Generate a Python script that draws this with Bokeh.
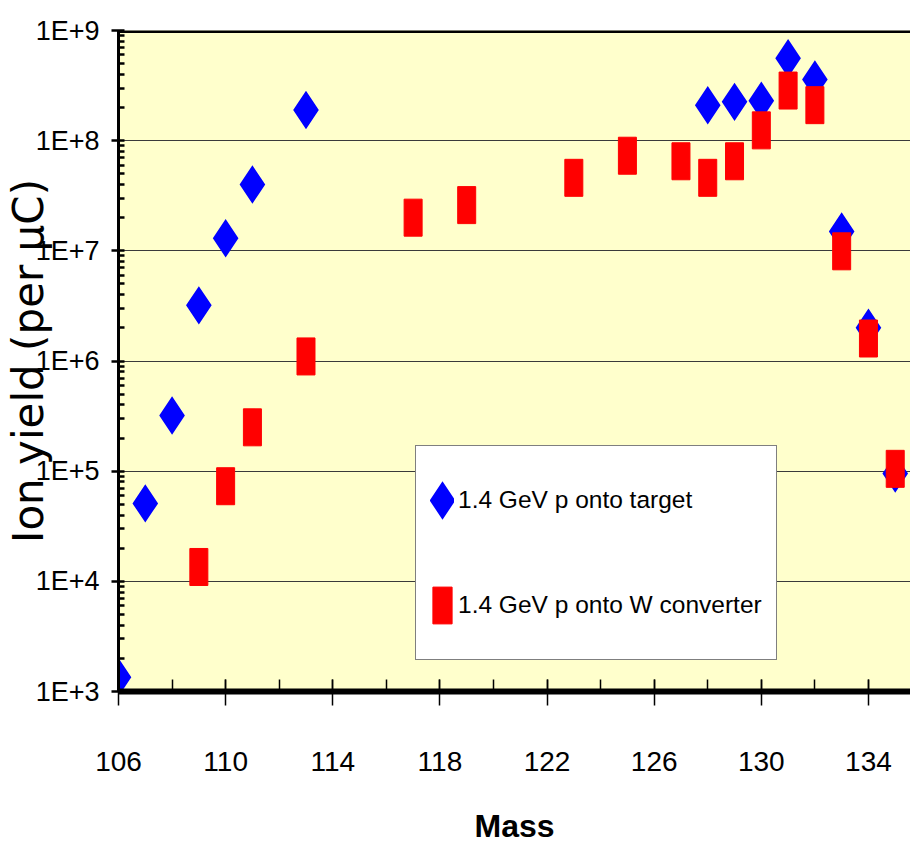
import numpy as np
from bokeh.plotting import figure
from bokeh.models import Range1d, FixedTicker, Legend, LegendItem, Span
from bokeh.embed import file_html
from bokeh.resources import INLINE

# ---- data ----
target_mass = [106, 107, 108, 109, 110, 111, 113, 128, 129, 130, 131, 132, 133, 134, 135]
target_yield = [1.35e3, 5.1e4, 3.2e5, 3.2e6, 1.3e7, 4.0e7, 1.9e8,
                2.1e8, 2.25e8, 2.3e8, 5.6e8, 3.6e8, 1.5e7, 2.0e6, 9.5e4]

converter_mass = [109, 110, 111, 113, 117, 119, 123, 125, 127, 128, 129, 130, 131, 132, 133, 134, 135]
converter_yield = [1.35e4, 7.3e4, 2.5e5, 1.1e6, 2.0e7, 2.6e7, 4.6e7, 7.3e7, 6.5e7,
                   4.6e7, 6.5e7, 1.24e8, 2.85e8, 2.1e8, 9.9e6, 1.6e6, 1.05e5]

series_labels = ["1.4 GeV p onto target", "1.4 GeV p onto W converter"]

x_ticks = [106, 110, 114, 118, 122, 126, 130, 134]
x_minor_ticks = [106, 108, 110, 112, 114, 116, 118, 120, 122, 124, 126, 128, 130, 132, 134, 136]
y_ticks = [1e3, 1e4, 1e5, 1e6, 1e7, 1e8, 1e9]
y_tick_labels = ["1E+3", "1E+4", "1E+5", "1E+6", "1E+7", "1E+8", "1E+9"]
y_minor_ticks = [m * d for d in y_ticks[:-1] for m in range(2, 10)]

x_title = "Mass"
y_title = "Ion yield (per \u03bcC)"

SANS = "Liberation Sans"

p = figure(frame_width=792, frame_height=661,
           x_range=Range1d(106, 135.57), y_range=Range1d(1e3, 1e9),
           y_axis_type="log", output_backend="svg", toolbar_location=None,
           min_border_left=111, min_border_top=30, min_border_right=0, min_border_bottom=10,
           background_fill_color="#FFFFCC", border_fill_color="white",
           outline_line_color=None)

# ---- grid ----
p.xgrid.visible = False
p.ygrid.ticker = FixedTicker(ticks=y_ticks)
p.ygrid.grid_line_color = "#3a3a3a"
p.ygrid.grid_line_width = 1

# ---- x axis ----
xa = p.xaxis[0]
xa.ticker = FixedTicker(ticks=x_ticks, minor_ticks=x_minor_ticks)
xa.axis_line_width = 6
xa.axis_line_color = "black"
xa.major_tick_out = 14
xa.major_tick_in = 12
xa.minor_tick_in = 12
xa.minor_tick_out = 0
xa.major_tick_line_width = 1.5
xa.minor_tick_line_width = 1.5
xa.major_tick_line_color = "black"
xa.minor_tick_line_color = "black"
xa.major_label_text_font = SANS
xa.major_label_text_font_size = "28px"
xa.major_label_text_color = "black"
xa.major_label_standoff = 46
xa.axis_label = x_title
xa.axis_label_text_font = SANS
xa.axis_label_text_font_size = "32px"
xa.axis_label_text_font_style = "bold"
xa.axis_label_text_color = "black"
xa.axis_label_standoff = 34

# ---- y axis ----
ya = p.yaxis[0]
ya.ticker = FixedTicker(ticks=y_ticks, minor_ticks=y_minor_ticks)
ya.major_label_overrides = {int(v): s for v, s in zip(y_ticks, y_tick_labels)}
ya.axis_line_width = 3
ya.axis_line_color = "black"
ya.major_tick_out = 7
ya.major_tick_in = 6
ya.minor_tick_in = 6
ya.minor_tick_out = 0
ya.major_tick_line_width = 2.5
ya.minor_tick_line_width = 2.5
ya.major_tick_line_color = "black"
ya.minor_tick_line_color = "black"
ya.major_label_text_font = SANS
ya.major_label_text_font_size = "27px"
ya.major_label_text_color = "black"
ya.major_label_standoff = 12
ya.axis_label = y_title
ya.axis_label_text_font = "DejaVu Sans"
ya.axis_label_text_font_size = "42px"
ya.axis_label_text_font_style = "normal"
ya.axis_label_text_color = "black"
ya.axis_label_standoff = -20

# thick top frame line
p.add_layout(Span(location=y_ticks[-1], dimension="width", line_color="black", line_width=5))

# ---- data marks ----
blue = p.scatter(target_mass, target_yield, marker="diamond", size=9.6,
                 fill_color="#0000FF", line_color="#0000FF", line_width=16,
                 line_join="miter")
red = p.rect(converter_mass, converter_yield, width=18, height=37,
             width_units="screen", height_units="screen",
             fill_color="#FF0000", line_color="#FF0000", line_width=1)

legend = Legend(items=[LegendItem(label=series_labels[0], renderers=[blue]),
                       LegendItem(label=series_labels[1], renderers=[red])],
                location=(297, 31), margin=0, padding=14, spacing=25,
                glyph_width=24, glyph_height=46, label_height=80, label_standoff=4,
                label_text_font=SANS, label_text_font_size="24.5px",
                label_text_color="black",
                border_line_color="black", border_line_width=1,
                background_fill_color="white", background_fill_alpha=1.0)
p.add_layout(legend)

open("out.html", "w").write(file_html(p, INLINE))
